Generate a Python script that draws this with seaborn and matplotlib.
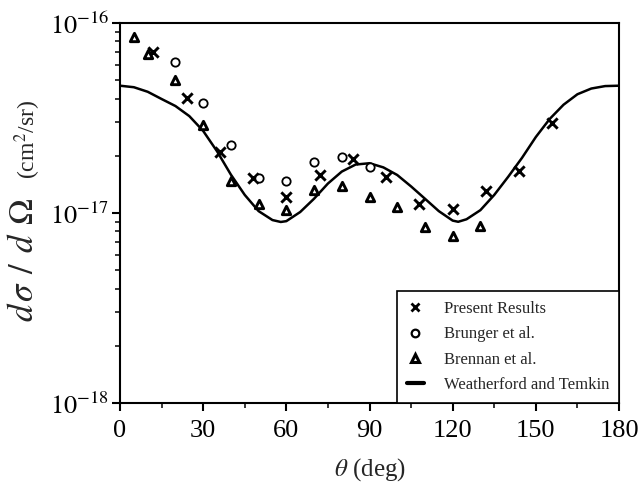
import numpy as np
import pandas as pd
import matplotlib
matplotlib.use("Agg")
import matplotlib.pyplot as plt
import seaborn as sns
from matplotlib.ticker import MultipleLocator, FixedLocator, NullFormatter
from matplotlib.lines import Line2D

# ---- data (cross sections in units of 1e-17 cm^2/sr) ----
SCALE = 1e-17
present_deg = [12, 24, 36, 48, 60, 72, 84, 96, 108, 120, 132, 144, 156]
present_val = [7.06, 4.04, 2.09, 1.52, 1.22, 1.58, 1.92, 1.55, 1.12, 1.05, 1.31, 1.66, 2.98]

brunger_deg = [20, 30, 40, 50, 60, 70, 80, 90]
brunger_val = [6.2, 3.78, 2.28, 1.52, 1.47, 1.86, 1.96, 1.74]

brennan_deg = [5, 10, 20, 30, 40, 50, 60, 70, 80, 90, 100, 110, 120, 130]
brennan_val = [8.47, 6.9, 5.0, 2.9, 1.48, 1.12, 1.04, 1.32, 1.39, 1.22, 1.07, 0.84, 0.757, 0.855]

theory_deg = [0, 5, 10, 15, 20, 25, 30, 35, 40, 45, 50, 55, 58, 60, 65, 70, 75, 80, 85, 90,
              95, 100, 105, 110, 115, 120, 122, 125, 130, 135, 140, 145, 150, 155, 160,
              165, 170, 175, 180]
theory_val = [4.677, 4.592, 4.345, 3.981, 3.656, 3.236, 2.704, 2.113, 1.592, 1.245, 1.023,
              0.918, 0.897, 0.906, 1.012, 1.189, 1.429, 1.652, 1.799, 1.828, 1.738, 1.585,
              1.380, 1.189, 1.023, 0.912, 0.899, 0.927, 1.035, 1.245, 1.549, 1.950, 2.512,
              3.126, 3.715, 4.217, 4.519, 4.656, 4.677]

labels = ["Present Results", "Brunger et al.", "Brennan et al.", "Weatherford and Temkin"]
x_ticks = [0, 30, 60, 90, 120, 150, 180]
y_ticks = [1e-18, 1e-17, 1e-16]
y_ticklabels = [r"$10^{-18}$", r"$10^{-17}$", r"$10^{-16}$"]

df_present = pd.DataFrame({"deg": present_deg, "val": np.array(present_val) * SCALE})
df_brunger = pd.DataFrame({"deg": brunger_deg, "val": np.array(brunger_val) * SCALE})
df_brennan = pd.DataFrame({"deg": brennan_deg, "val": np.array(brennan_val) * SCALE})
df_theory = pd.DataFrame({"deg": theory_deg, "val": np.array(theory_val) * SCALE})

sns.set_theme(style="ticks")
plt.rcParams["font.family"] = ["Liberation Serif", "DejaVu Serif"]
plt.rcParams["mathtext.fontset"] = "stix"

fig = plt.figure(figsize=(6.41, 4.93), dpi=100)
ax = fig.add_axes([120 / 641, 1 - 403 / 493, (619 - 120) / 641, (403 - 23) / 493])

sns.lineplot(data=df_theory, x="deg", y="val", ax=ax, color="black", linewidth=1.8,
             sort=False, legend=False)
sns.scatterplot(data=df_present, x="deg", y="val", ax=ax, marker="x", color="black",
                s=55, linewidth=2.1, legend=False, zorder=3)
sns.scatterplot(data=df_brunger, x="deg", y="val", ax=ax, marker="o", facecolor="white",
                edgecolor="black", s=36, linewidth=1.3, legend=False, zorder=3)
sns.scatterplot(data=df_brennan, x="deg", y="val", ax=ax, marker="^", facecolor="white",
                edgecolor="black", s=36, linewidth=2.1, legend=False, zorder=3)

ax.set_yscale("log")
ax.set_xlim(0, 180)
ax.set_ylim(1e-18, 1e-16)
ax.set_xticks(x_ticks)
ax.set_xticklabels([str(t) for t in x_ticks])
ax.xaxis.set_minor_locator(MultipleLocator(15))
ax.set_yticks(y_ticks)
ax.set_yticklabels(y_ticklabels)
minor_y = [m * 10.0 ** e for e in (-18, -17) for m in range(2, 10)]
ax.yaxis.set_minor_locator(FixedLocator(minor_y))
ax.yaxis.set_minor_formatter(NullFormatter())
ax.set_xlabel("")
ax.set_ylabel("")

for sp in ax.spines.values():
    sp.set_linewidth(1.5)
    sp.set_color("black")
    sp.set_visible(True)

ax.tick_params(axis="both", which="major", direction="out", length=6, width=1.5,
               labelsize=19, colors="black")
ax.tick_params(axis="both", which="minor", direction="out", length=3.5, width=1.3)
ax.tick_params(axis="x", which="major", pad=6)
ax.tick_params(axis="y", which="major", pad=2)

handles = [
    Line2D([], [], marker="x", linestyle="", color="black", markersize=6, markeredgewidth=2),
    Line2D([], [], marker="o", linestyle="", color="black", markerfacecolor="white",
           markersize=5.5, markeredgewidth=1.6),
    Line2D([], [], marker="^", linestyle="", color="black", markerfacecolor="white",
           markersize=5.5, markeredgewidth=2.2),
    Line2D([], [], color="black", linewidth=3),
]
leg = ax.legend(handles, labels, loc="lower right", bbox_to_anchor=(1, 0),
                borderaxespad=0, frameon=True, fancybox=False, fontsize=12,
                handlelength=1.0, handletextpad=1.2, labelspacing=0.56,
                borderpad=0.6, edgecolor="black")
leg.get_frame().set_linewidth(1.2)
leg.get_frame().set_alpha(1)

fig.text(0.039, 1 - 260 / 493, r"$d\;\!\sigma\;\,/\;\,d\;\,\Omega$", rotation=90,
         ha="center", va="center", fontsize=25)
fig.text(0.043, 1 - 140 / 493, r"(cm$^2$/sr)", rotation=90, ha="center",
         va="center", fontsize=17)
fig.text((120 + 619) / 2 / 641, 1 - 470 / 493, r"$\theta$ (deg)", ha="center",
         va="center", fontsize=18)

fig.savefig("out.png", dpi=100)
